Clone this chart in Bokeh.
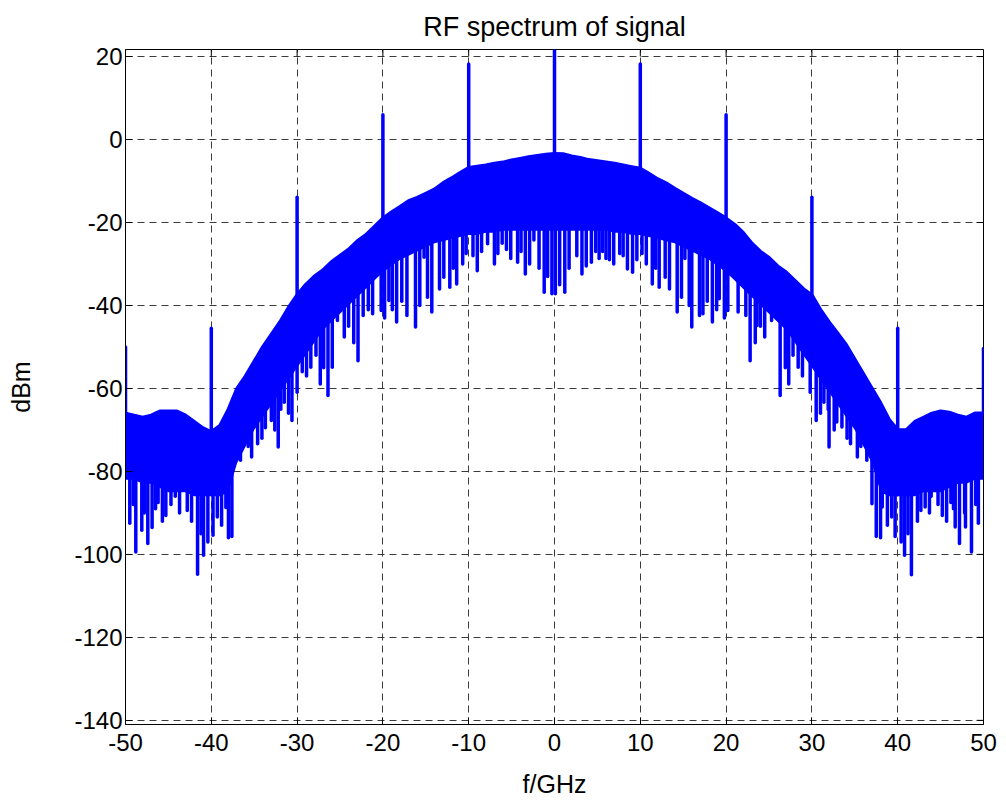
import numpy as np
from bokeh.plotting import figure
from bokeh.models import Range1d, FixedTicker, ColumnDataSource
from bokeh.embed import file_html
from bokeh.resources import INLINE

# ---------------- data ----------------
freq_grid = list(range(-50, 51))  # GHz, 1 GHz sampling of the envelope

env_top = [
    -66, -66.5, -67, -66.5, -65.5, -65.5, -65.5, -66.5, -68, -69.5,
    -70.5, -69, -65, -60, -57, -53.5, -50, -47, -44, -40.5,
    -37.5, -35, -33, -31.5, -29.5, -28, -26.5, -24.5, -23, -21,
    -19, -17.5, -16.2, -14.8, -14, -13, -12, -10.5, -9.3, -8,
    -6.8, -6.5, -6.2, -5.8, -5.5, -5, -4.6, -4.2, -3.9, -3.6,
    -3.4,
    -3.5, -4, -4.4, -4.9, -5.2, -5.5, -5.8, -6.2, -6.6, -7,
    -8.2, -9.5, -10.5, -11.8, -13, -14.2, -15.3, -16.5, -17.7, -19,
    -20.5, -22.5, -25, -27, -28.5, -30.5, -32, -34, -36, -37.5,
    -41, -44, -46.7, -49.5, -53, -56.5, -60, -63.5, -67.5, -70,
    -70, -68, -67, -66, -65.5, -65.8, -66.5, -67, -66, -66,
]

env_floor = [
    -82, -82, -83, -83, -84, -85, -85, -85, -86, -86,
    -86, -86, -85, -78, -74, -70, -67, -64, -61, -58,
    -55, -52, -49, -46, -44, -42, -40, -38, -36, -34,
    -32, -30.5, -29, -28, -27, -26, -25, -24.5, -24, -23.5,
    -23, -23, -22.5, -22.5, -22, -22, -22, -22, -22, -22,
    -22,
    -22, -22, -22, -22, -22, -22, -22.5, -22.5, -23, -23,
    -23.5, -24, -24.5, -25, -26, -27, -28, -29, -30.5, -32,
    -34, -36, -38, -40, -42, -44, -46, -49, -52, -55,
    -58, -61, -64, -67, -70, -74, -78, -85, -86, -86,
    -86, -86, -85, -85, -85, -84, -83, -83, -82, -82,
]

dip_f = [
    -49.5, -48.8, -48.1, -47.4, -46.9, -46.2, -45.3, -44.2, -42.8, -41.6,
    -40.9, -39.8, -38.3, -37.6, -36.6, -36.2, -35.3, -34.6, -33.7, -33.0,
    -32.2, -31.5, -30.6, -30.0, -28.4, -27.3, -26.4, -25.9, -25.3, -24.5,
    -22.9, -22.3, -21.7, -21.2, -20.2, -19.3, -18.4, -17.2, -16.2, -15.2,
    -14.3, -12.9, -12.2, -11.4, -10.3, -9.0, -7.8, -7.0, -6.1, -5.1,
    -4.3, -3.4, -2.4, -1.2, -0.3,
    0.1, 1.2, 3.2, 4.3, 5.2, 6.0, 6.9, 7.6, 8.5, 9.1,
    10.2, 11.4, 12.2, 12.9, 14.3, 15.2, 16.0, 16.9, 17.3, 18.4,
    19.2, 20.2, 21.4, 22.3, 22.8, 23.6, 24.5, 25.3, 26.3, 27.3,
    28.4, 29.3, 29.8, 30.5, 31.4, 32.0, 32.9, 33.5, 34.5, 35.3,
    36.4, 37.0, 37.5, 38.2, 38.8, 39.7, 40.8, 41.6, 42.7, 43.2,
    43.9, 45.2, 46.2, 46.7, 47.2, 47.9, 48.6, 49.4,
    # shallower dips between the main ones
    -49.1, -47.8, -46.5, -45.7, -44.7, -43.7, -42.3, -41.2, -40.4, -39.3,
    -38.8, -38.0, -35.7, -34.1, -32.6, -31.9, -31.0, -29.4, -28.9, -27.8,
    -26.9, -24.0, -23.4, -19.8, -18.9, -17.8, -15.7, -14.8, -13.4, -11.8,
    -10.7, -9.5, -8.5, -6.6, -5.6, -3.9, -2.9, -1.8, -0.8,
    0.6, 1.7, 2.6, 3.7, 4.8, 5.6, 6.4, 8.0, 9.6, 10.7,
    11.8, 13.4, 14.8, 15.7, 17.8, 18.9, 19.8, 23.4, 24.0, 26.9,
    27.8, 28.9, 31.0, 31.9, 32.6, 34.1, 35.7, 38.0, 38.8, 39.3,
    40.4, 41.2, 42.3, 43.7, 44.7, 45.7, 46.5, 47.8, 49.1,
]
dip_db = [
    -92.5, -99.4, -94.2, -97.4, -93.5, -87.5, -90.6, -86, -89.4, -104.8,
    -100.2, -95.4, -88.7, -95.7, -77.3, -72, -76.5, -73.3, -69.5, -67.7,
    -74.1, -63.3, -67.7, -60.9, -54.9, -58.9, -61.7, -54.9, -43.6, -47.6,
    -53.3, -42.4, -41, -42, -41.2, -38.8, -44, -42.4, -45.2, -28.4,
    -41.6, -33.2, -35.6, -34.8, -27.5, -31.6, -25.1, -30, -25, -28.7,
    -29.6, -32.4, -24.2, -36.8, -37.2,
    -37.2, -36.8, -32.4, -29.6, -28.7, -28.7, -30, -27.5, -31.2, -32,
    -27.5, -34.8, -35.6, -33.2, -41.6, -28.7, -45.2, -42.4, -42, -44,
    -38.4, -41.2, -41.6, -42.4, -53.3, -44.8, -47.6, -43.6, -61.7, -58.9,
    -54.9, -52, -60.9, -67.7, -63.3, -74.1, -68.1, -69.3, -73.3, -76.5,
    -77.3, -87.8, -95.7, -88.6, -85, -95.7, -100.2, -104.9, -89.4, -88.6,
    -86, -90.6, -87.5, -93.4, -97.4, -93.4, -99.4, -92.5,
    -88, -90, -89, -92, -88, -90, -92, -95, -97, -91,
    -93, -96, -74, -72, -70, -65, -66, -56, -57, -52,
    -55, -45, -49, -43, -41, -39, -40, -38, -36, -31,
    -30, -28, -27, -27.5, -26.5, -27, -30, -31, -33,
    -35, -31, -28, -30.5, -27, -27, -29, -28, -29, -30,
    -31, -36, -38, -40, -39, -41, -43, -49, -45, -55,
    -52, -57, -66, -65, -70, -72, -74, -96, -93, -91,
    -97, -95, -92, -90, -88, -92, -89, -90, -88,
]

spike_f = [-50, -40, -30, -20, -10, 0, 10, 20, 30, 40, 50]
spike_db = [-50, -45.5, -13.9, 6.0, 18.2, 22.5, 18.2, 6.0, -13.9, -45.5, -50.4]

x_ticks = [-50, -40, -30, -20, -10, 0, 10, 20, 30, 40, 50]
x_tick_labels = ["-50", "-40", "-30", "-20", "-10", "0", "10", "20", "30", "40", "50"]
y_ticks = [-140, -120, -100, -80, -60, -40, -20, 0, 20]
y_tick_labels = ["-140", "-120", "-100", "-80", "-60", "-40", "-20", "0", "20"]

# ---------------- figure ----------------
BLUE = "#0000FF"
FONT = "Liberation Sans"
XMIN, XMAX, YMIN, YMAX = -50, 50, -141, 21.7

p = figure(
    width=1006, height=805,
    x_range=Range1d(XMIN, XMAX), y_range=Range1d(YMIN, YMAX),
    output_backend="svg", toolbar_location=None,
    title="RF spectrum of signal",
    min_border_left=125, min_border_right=23,
    min_border_top=49, min_border_bottom=81,
    background_fill_color="white", border_fill_color="white",
)
p.title.align = "center"
p.title.text_font = FONT
p.title.text_font_size = "27px"
p.title.text_font_style = "normal"
p.title.text_color = "black"
p.title.standoff = 16

p.outline_line_color = "black"
p.outline_line_width = 1

for ax in (p.xaxis[0], p.yaxis[0]):
    ax.major_label_text_font = FONT
    ax.major_label_text_font_size = "24px"
    ax.major_label_text_color = "black"
    ax.axis_label_text_font = FONT
    ax.axis_label_text_font_size = "25px"
    ax.axis_label_text_font_style = "normal"
    ax.axis_label_text_color = "black"
    ax.major_tick_in = 7
    ax.major_tick_out = 0
    ax.minor_tick_line_color = None
    ax.axis_line_color = "black"
    ax.major_tick_line_color = "black"

p.xaxis.ticker = FixedTicker(ticks=x_ticks)
p.yaxis.ticker = FixedTicker(ticks=y_ticks)
p.xaxis.major_label_overrides = dict(zip(x_ticks, x_tick_labels))
p.yaxis.major_label_overrides = dict(zip(y_ticks, y_tick_labels))
p.xaxis.axis_label = "f/GHz"
p.yaxis.axis_label = "dBm"
p.xaxis.major_label_standoff = 9
p.yaxis.major_label_standoff = 3
p.xaxis.axis_label_standoff = 16
p.yaxis.axis_label_standoff = 36

for g in (p.xgrid[0], p.ygrid[0]):
    g.grid_line_color = "#3a3a3a"
    g.grid_line_dash = "7 5"
    g.grid_line_width = 1
p.xgrid.ticker = FixedTicker(ticks=x_ticks)
p.ygrid.ticker = FixedTicker(ticks=y_ticks)

# inward box ticks on the top and right edges
tick_dy = (YMAX - YMIN) * 7 / 675.0
tick_dx = (XMAX - XMIN) * 7 / 858.0
p.segment(x0=x_ticks, y0=[YMAX] * len(x_ticks), x1=x_ticks,
          y1=[YMAX - tick_dy] * len(x_ticks), line_color="black", line_width=1)
p.segment(x0=[XMAX] * len(y_ticks), y0=y_ticks, x1=[XMAX - tick_dx] * len(y_ticks),
          y1=y_ticks, line_color="black", line_width=1)

# ---------------- spectrum ----------------
src = ColumnDataSource(dict(f=freq_grid, top=env_top, floor=env_floor))
p.varea(x="f", y1="floor", y2="top", source=src, fill_color=BLUE)
p.line(x="f", y="top", source=src, line_color=BLUE, line_width=3.5)

dip_y0 = list(np.interp(dip_f, freq_grid, env_floor) + 2.0)
p.segment(x0=dip_f, y0=dip_y0, x1=dip_f, y1=dip_db,
          line_color=BLUE, line_width=3.5, line_cap="round")

spike_base = list(np.interp(spike_f, freq_grid, env_top))
p.segment(x0=spike_f, y0=spike_base, x1=spike_f, y1=spike_db,
          line_color=BLUE, line_width=3.5, line_cap="round")

open("out.html", "w").write(file_html(p, INLINE))
